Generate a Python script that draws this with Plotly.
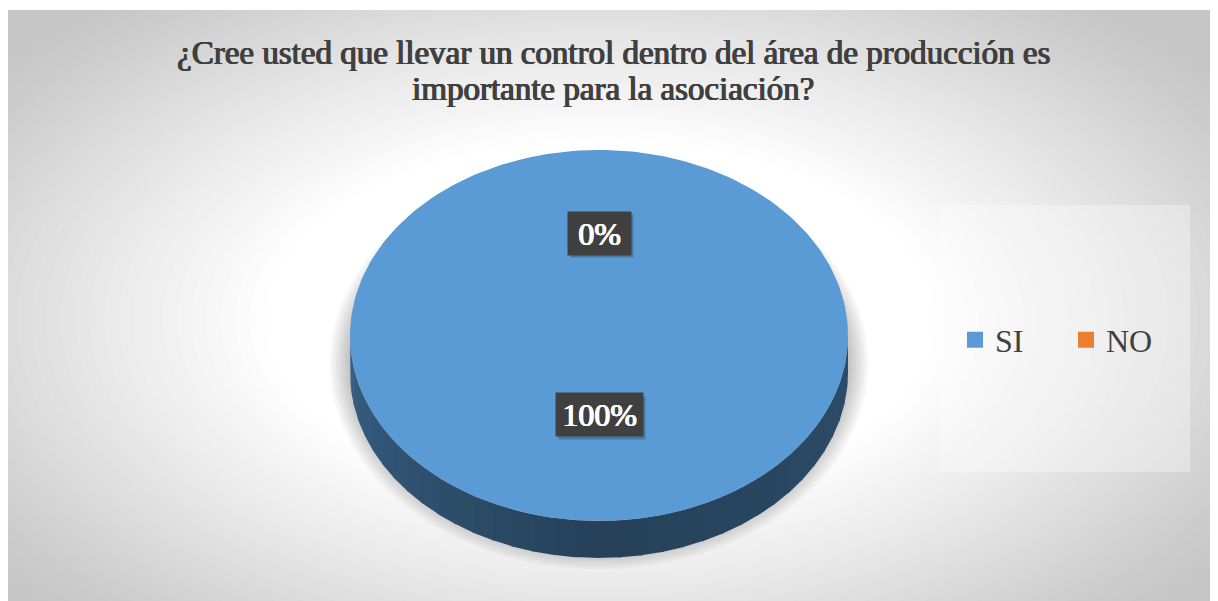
import numpy as np
import plotly.graph_objects as go

# Datos de la encuesta
labels = ['SI', 'NO']
values = [100, 0]
slice_colors = ['#5B9BD5', '#ED7D31']
title_lines = ['¿Cree usted que llevar un control dentro del área de producción es',
               'importante para la asociación?']

###################################
# Geometry of the 3D pie (page pixel units on the hidden axes)
PAGE_OFF = 8          # default body margin of the html page
W, H = 1218 - PAGE_OFF, 601 - PAGE_OFF
cx, cy = 599, 335.5
rx, ry = 249, 185.5
depth = 37
label_cy = 324
label_frac = 0.49
font_serif = 'Liberation Serif'
# bold serif face is faked with a thin text shadow
title_bold = '0.8px 0 0 #404040, -0.4px 0 0 #404040, 0 0.4px 0 #404040'
label_bold = '0.8px 0 0 white, -0.4px 0 0 white, 0 0.4px 0 white'


def ellipse_pt(theta, dy=0.0):
    th = np.radians(theta)
    return cx + rx * np.sin(th), cy + dy - ry * np.cos(th)


def hex_rgb(h):
    h = h.lstrip('#')
    return tuple(int(h[i:i + 2], 16) for i in (0, 2, 4))


def shade(h, f):
    r, g, b = hex_rgb(h)
    return f'rgb({int(r * f)},{int(g * f)},{int(b * f)})'


def gray_at(t):
    k = min(max((t - 0.55) / 0.7, 0), 1)
    g = int(round(255 - 57 * k))
    return f'rgb({g},{g},{g})'


fig = go.Figure()

###################################
# Radial gradient background + legend panel + pie shadow
shapes = []
gcx, gcy, gax, gay = 600, 320, 610, 330
for t in np.linspace(1.6, 0.55, 45):
    shapes.append(dict(type='circle', xref='x', yref='y', layer='below',
                       x0=gcx - t * gax, x1=gcx + t * gax,
                       y0=gcy - t * gay, y1=gcy + t * gay,
                       fillcolor=gray_at(t), line_width=0))
shapes.append(dict(type='rect', xref='x', yref='y', layer='below',
                   x0=940, x1=1190, y0=205, y1=472,
                   fillcolor='rgba(255,255,255,0.32)', line_width=0))
for k in range(7):
    grow = 2 + 3 * k
    shapes.append(dict(type='circle', xref='x', yref='y', layer='below',
                       x0=cx - rx - grow, x1=cx + rx + grow,
                       y0=cy + 28 - ry - grow, y1=cy + 28 + ry + grow,
                       fillcolor='rgba(0,0,0,0.035)', line_width=0))

###################################
# Slices: side band first, then the top face
total = sum(values)
cum = 0
angles = []
for v in values:
    a0 = 360 * cum / total
    a1 = 360 * (cum + v) / total
    angles.append((a0, a1))
    cum += v

for (a0, a1), col in zip(angles, slice_colors):
    lo, hi = max(a0, 90), min(a1, 270)
    if hi <= lo:
        continue
    edges = np.arange(lo, hi + 0.001, 5.0)
    if edges[-1] < hi:
        edges = np.append(edges, hi)
    for s0, s1 in zip(edges[:-1], edges[1:]):
        mid = (s0 + s1) / 2
        # darker toward the front/bottom, lighter toward the left
        if mid <= 180:
            f = 0.50 - 0.08 * (mid - 90) / 90
        else:
            f = 0.42 + 0.20 * (mid - 180) / 90
        th = np.linspace(s0, s1 + 0.6, 6)
        xt, yt = ellipse_pt(th)
        xb, yb = ellipse_pt(th[::-1], depth)
        fig.add_trace(go.Scatter(x=np.concatenate([xt, xb]), y=np.concatenate([yt, yb]),
                                 fill='toself', mode='lines', line_width=0,
                                 fillcolor=shade(col, f), hoverinfo='skip',
                                 showlegend=False))

for (a0, a1), col, lab, v in zip(angles, slice_colors, labels, values):
    if a1 <= a0:
        continue
    th = np.linspace(a0, a1, 240)
    xs, ys = ellipse_pt(th)
    xs = np.concatenate([[cx], xs, [cx]])
    ys = np.concatenate([[cy], ys, [cy]])
    fig.add_trace(go.Scatter(x=xs, y=ys, fill='toself', mode='lines',
                             line=dict(width=0), fillcolor=col, name=lab,
                             hovertemplate=f'{lab}: {v}%<extra></extra>',
                             showlegend=False))

# Legend entries
for lab, col in zip(labels, slice_colors):
    fig.add_trace(go.Scatter(x=[None], y=[None], mode='markers', name=lab,
                             marker=dict(symbol='square', size=17, color=col)))

###################################
# Data labels (dark boxes with a small drop shadow)
annotations = []
box_h = 43
for (a0, a1), v in zip(angles, values):
    mid = np.radians((a0 + a1) / 2)
    lx = cx + label_frac * rx * np.sin(mid)
    ly = label_cy - label_frac * ry * np.cos(mid)
    txt = f'{round(100 * v / total)}%'
    wtxt = 12 * len(txt) + 31
    bw = wtxt + 8
    shapes.append(dict(type='rect', xref='x', yref='y', layer='above',
                       x0=lx - bw / 2 + 3, x1=lx + bw / 2 + 3,
                       y0=ly - box_h / 2 + 3, y1=ly + box_h / 2 + 3,
                       fillcolor='rgba(0,0,0,0.22)', line_width=0))
    annotations.append(dict(x=lx, y=ly, xref='x', yref='y', showarrow=False,
                            width=wtxt, height=box_h - 8, borderpad=4,
                            text=txt, bgcolor='#404040',
                            font=dict(family=font_serif, size=32, color='white',
                                      shadow=label_bold)))

# Title, two centred lines
for line, ty in zip(title_lines, [53, 89]):
    annotations.append(dict(x=613, y=ty, xref='x', yref='y', showarrow=False,
                            xanchor='center', yanchor='middle', text=line,
                            font=dict(family=font_serif, size=33, color='#404040',
                                      shadow=title_bold)))

fig.update_layout(
    width=W, height=H,
    margin=dict(l=0, r=1, t=2, b=0),
    paper_bgcolor='white',
    plot_bgcolor='rgb(198,198,198)',
    xaxis=dict(range=[PAGE_OFF, 1217], visible=False, fixedrange=True),
    yaxis=dict(range=[601, 10], visible=False, fixedrange=True),
    shapes=shapes,
    annotations=annotations,
    showlegend=True,
    legend=dict(orientation='h', x=(1066 - PAGE_OFF) / 1209, xanchor='center',
                y=(601 - 340) / 591, yanchor='middle', bgcolor='rgba(0,0,0,0)',
                font=dict(family=font_serif, size=32, color='#404040'),
                entrywidth=66, itemclick=False),
)

fig.write_html("out.html")
